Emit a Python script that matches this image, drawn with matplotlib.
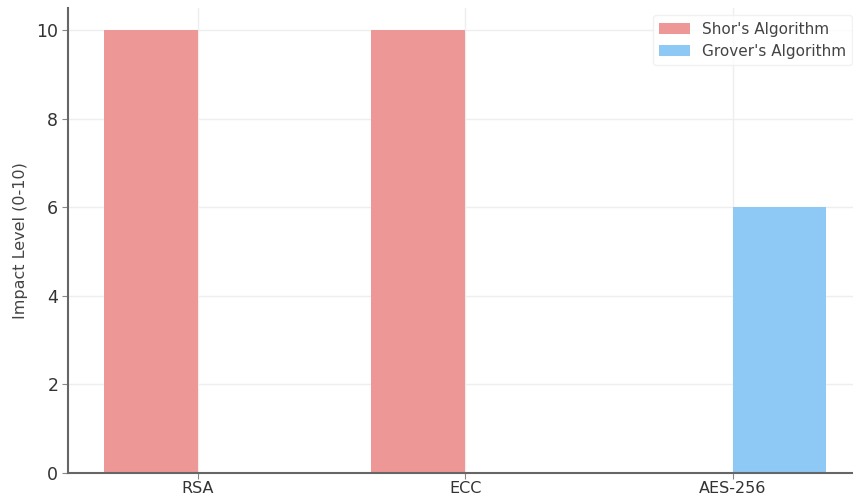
import numpy as np
import matplotlib.pyplot as plt

# Impact of quantum algorithms on common crypto schemes
schemes = ["RSA", "ECC", "AES-256"]
shor_impact = [10, 10, 0]
grover_impact = [0, 0, 6]
series_names = ["Shor's Algorithm", "Grover's Algorithm"]
yticks = [0, 2, 4, 6, 8, 10]

x = np.arange(len(schemes))
width = 0.35

fig = plt.figure(figsize=(8.54, 4.97), dpi=100)
ax = fig.add_axes([0.0796, 0.0483, 0.93, 0.936])

ax.bar(x - width / 2, shor_impact, width, color="#EE9797", label=series_names[0])
ax.bar(x + width / 2, grover_impact, width, color="#8EC9F6", label=series_names[1])

ax.set_xticks(x)
ax.set_xticklabels(schemes, fontsize=11.5, color="#333333")
ax.set_yticks(yticks)
ax.set_yticklabels([str(v) for v in yticks], fontsize=12.5, color="#333333")
ax.set_ylim(0, 10.5)
ax.set_xlim(-0.485, 2.485)
ax.set_ylabel("Impact Level (0-10)", fontsize=11.5, color="#444444", labelpad=6)

ax.grid(True, color="#EEEEEE", linewidth=1)
ax.set_axisbelow(True)
for side in ["top", "right"]:
    ax.spines[side].set_visible(False)
for side in ["left", "bottom"]:
    ax.spines[side].set_color("#666666")
    ax.spines[side].set_linewidth(1.5)
ax.tick_params(colors="#888888", length=4, labelcolor="#333333")
ax.tick_params(axis="x", pad=1.5)
ax.tick_params(axis="y", pad=3)

leg = ax.legend(loc="upper right", bbox_to_anchor=(0.997, 1.0), fontsize=11,
                frameon=True, edgecolor="#EEEEEE", labelcolor="#444444")

fig.savefig("out.png", dpi=100)
